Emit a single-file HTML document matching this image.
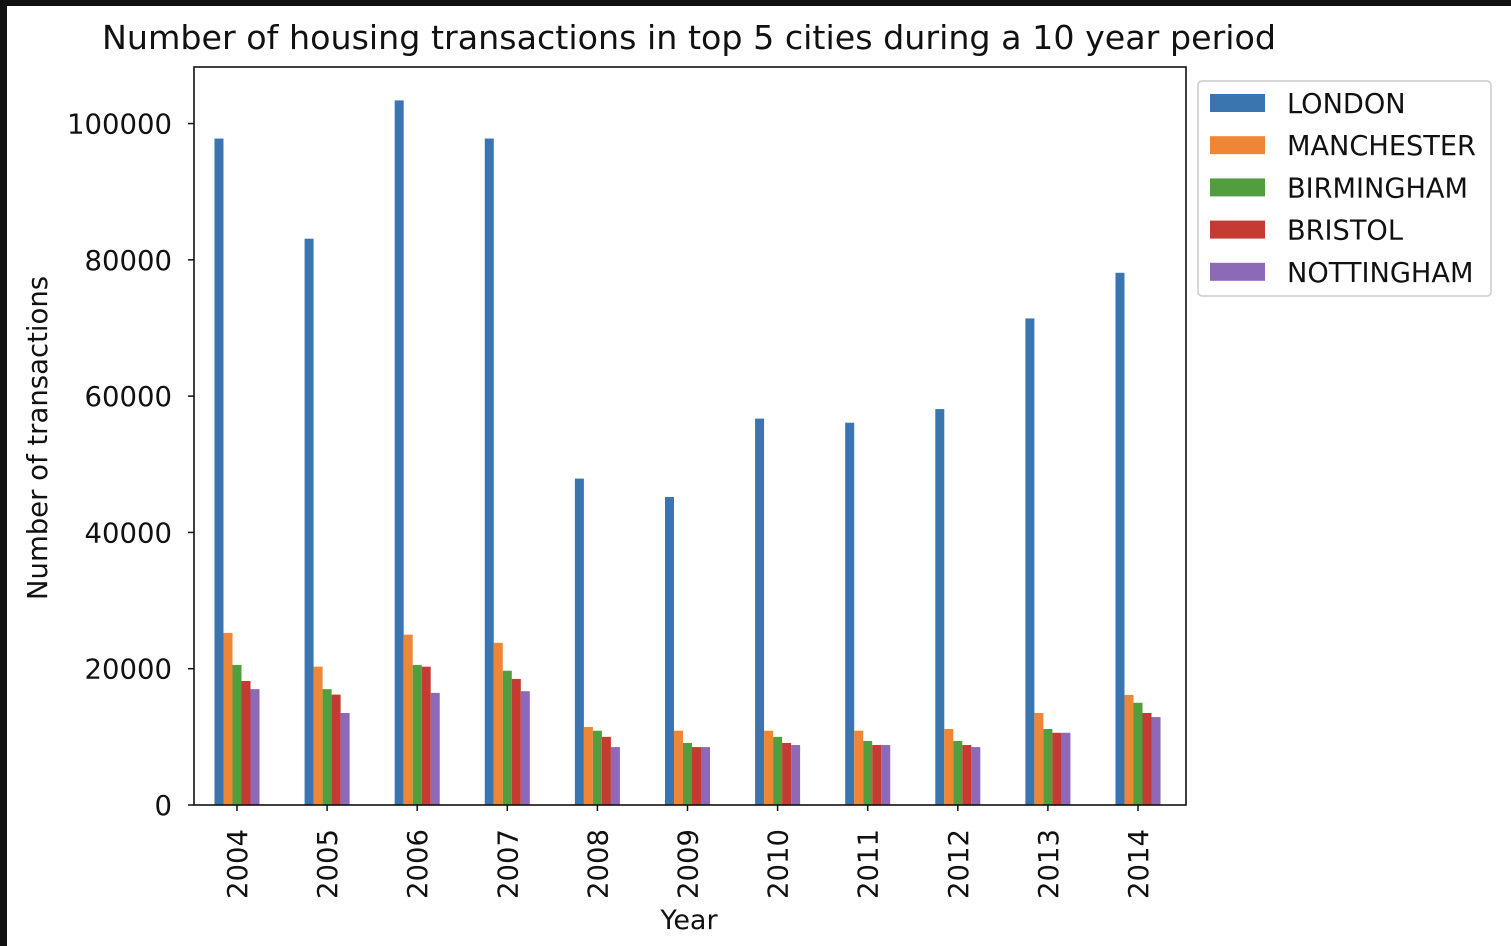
<!DOCTYPE html>
<html><head><meta charset="utf-8"><style>
body{margin:0;background:#111;}
svg{display:block;font-family:"DejaVu Sans","Liberation Sans",sans-serif;}
</style></head><body>
<svg id="chart" width="1511" height="946">
<rect x="7" y="6" width="1504" height="940" fill="#fff"/>
<text x="689" y="49" font-size="33.3" text-anchor="middle" fill="#111">Number of housing transactions in top 5 cities during a 10 year period</text>
<g id="bars"></g>
<g id="axes"></g>
<text transform="translate(47,438) rotate(-90)" font-size="27.5" text-anchor="middle" fill="#111">Number of transactions</text>
<text x="689" y="929" font-size="27" text-anchor="middle" fill="#111">Year</text>
<g id="legend"></g>
</svg>
<script>
const years=["2004","2005","2006","2007","2008","2009","2010","2011","2012","2013","2014"];
const seriesNames=["LONDON","MANCHESTER","BIRMINGHAM","BRISTOL","NOTTINGHAM"];
const london=[97800,83100,103400,97800,47900,45200,56700,56100,58100,71400,78100];
const manchester=[25250,20300,25000,23800,11450,10900,10900,10900,11150,13500,16150];
const birmingham=[20560,17000,20560,19700,10900,9100,10000,9400,9400,11150,15000];
const bristol=[18200,16200,20300,18500,10000,8500,9100,8800,8800,10600,13500];
const nottingham=[17000,13500,16450,16700,8500,8500,8800,8800,8500,10600,12900];
const yTicks=[0,20000,40000,60000,80000,100000];
const colors=["#3a75b0","#ef8636","#519e3e","#c53a32","#8d69b8"];
const series=[london,manchester,birmingham,bristol,nottingham];
const NS="http://www.w3.org/2000/svg";
const L=194,R=1186,T=67,B=805,yMax=108300;
const y=v=>B-v/yMax*(B-T);
const step=90.1;
const xc=i=>237+step*i;
const bw=step*0.1;
function mk(tag,attrs,parent){const e=document.createElementNS(NS,tag);for(const k in attrs)e.setAttribute(k,attrs[k]);parent.appendChild(e);return e;}
const gb=document.getElementById('bars');
series.forEach((s,si)=>{s.forEach((v,i)=>{
  const r=mk('rect',{x:xc(i)-2.5*bw+si*bw,y:y(v),width:bw,height:B-y(v),fill:colors[si]},gb);
  
  
});});
const ga=document.getElementById('axes');
const fr=mk('rect',{x:L,y:T,width:R-L,height:B-T,fill:'none',stroke:'#111','stroke-width':1.6},ga);


yTicks.forEach(t=>{
  mk('line',{x1:L-6,x2:L,y1:y(t),y2:y(t),stroke:'#111','stroke-width':1.5},ga);
  const tx=mk('text',{x:L-22,y:y(t)+10,'font-size':27.5,'text-anchor':'end',fill:'#111'},ga);
  tx.textContent=t;
  
  
});
years.forEach((yr,i)=>{
  mk('line',{x1:xc(i),x2:xc(i),y1:B,y2:B+6,stroke:'#111','stroke-width':1.5},ga);
  const tx=mk('text',{transform:`translate(${xc(i)+10},${B+24}) rotate(-90)`,'font-size':27.5,'text-anchor':'end',fill:'#111'},ga);
  tx.textContent=yr;
  
  
});
const gl=document.getElementById('legend');
const lb=mk('rect',{x:1198,y:81,width:293,height:215,rx:4,fill:'#fff',stroke:'#ccc','stroke-width':1.5},gl);


seriesNames.forEach((n,i)=>{
  const cy=103+i*42.2;
  const p=mk('rect',{x:1210,y:cy-9,width:55,height:18,fill:colors[i]},gl);
  
  
  const tx=mk('text',{x:1287,y:cy+10,'font-size':27.2,fill:'#111'},gl);
  tx.textContent=n;
  
  
});
</script>
</body></html>
